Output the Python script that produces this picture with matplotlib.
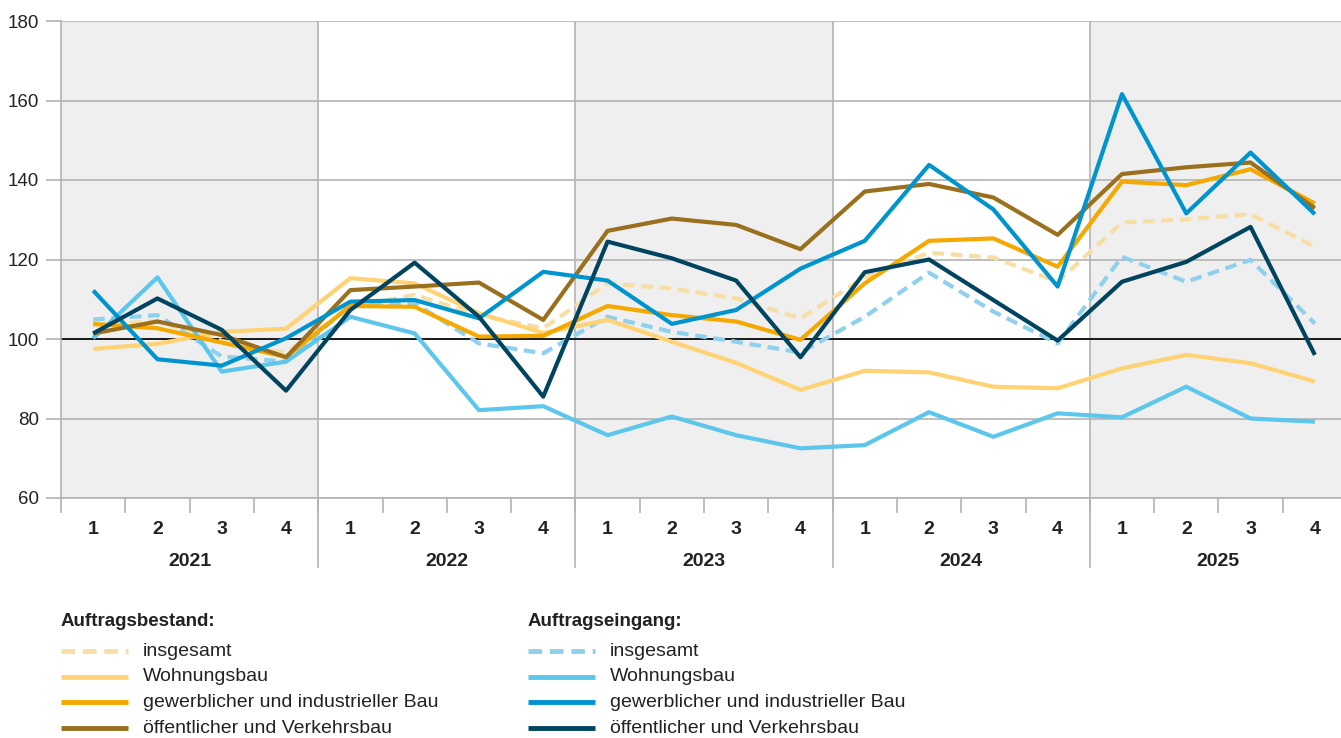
import numpy as np
import matplotlib.pyplot as plt
from matplotlib.lines import Line2D
from matplotlib.transforms import blended_transform_factory

plt.rcParams['font.family'] = ['Liberation Sans', 'DejaVu Sans']

years = ['2021', '2022', '2023', '2024', '2025']
quarters = ['1', '2', '3', '4']

# Auftragsbestand (order backlog)
bestand_insgesamt = [103.5, 104.5, 99.5, 96.5, 108.0, 111.1, 106.0, 102.7,
                     114.0, 112.7, 110.2, 105.2, 115.5, 121.7, 120.5, 114.4,
                     129.3, 130.1, 131.4, 123.2]
bestand_wohnungsbau = [97.5, 98.8, 101.8, 102.6, 115.3, 114.0, 106.5, 101.5,
                       104.8, 99.3, 94.0, 87.2, 92.0, 91.6, 88.0, 87.6,
                       92.6, 96.0, 93.9, 89.3]
bestand_gewerblich = [103.8, 102.7, 99.1, 95.5, 108.3, 108.1, 100.6, 100.8,
                      108.3, 106.0, 104.4, 99.8, 114.0, 124.7, 125.3, 118.2,
                      139.6, 138.7, 142.7, 134.1]
bestand_oeffentlich = [101.4, 104.4, 101.0, 95.4, 112.3, 113.2, 114.2, 104.8,
                       127.2, 130.3, 128.7, 122.6, 137.1, 139.0, 135.6, 126.2,
                       141.5, 143.2, 144.4, 132.9]

# Auftragseingang (new orders)
eingang_insgesamt = [104.9, 106.0, 95.6, 94.3, 108.6, 109.0, 98.9, 96.4,
                     105.6, 101.8, 99.3, 96.6, 105.6, 116.7, 106.9, 98.9,
                     120.7, 114.4, 119.9, 103.9]
eingang_wohnungsbau = [100.2, 115.5, 91.8, 94.3, 105.6, 101.4, 82.1, 83.1,
                       75.8, 80.5, 75.8, 72.5, 73.3, 81.6, 75.4, 81.3,
                       80.3, 88.0, 80.0, 79.2]
eingang_gewerblich = [112.2, 94.9, 93.3, 100.2, 109.4, 109.8, 105.2, 116.9,
                      114.7, 103.8, 107.3, 117.7, 124.7, 143.8, 132.6, 113.2,
                      161.6, 131.6, 146.9, 131.4]
eingang_oeffentlich = [101.4, 110.2, 102.3, 87.0, 107.3, 119.2, 105.6, 85.5,
                       124.5, 120.3, 114.7, 95.4, 116.8, 120.0, 109.8, 99.6,
                       114.4, 119.4, 128.2, 96.0]

labels = ['insgesamt', 'Wohnungsbau', 'gewerblicher und industrieller Bau',
          'öffentlicher und Verkehrsbau']
bestand = [bestand_insgesamt, bestand_wohnungsbau, bestand_gewerblich, bestand_oeffentlich]
eingang = [eingang_insgesamt, eingang_wohnungsbau, eingang_gewerblich, eingang_oeffentlich]
bestand_colors = ['#f7dea5', '#ffd373', '#f5a800', '#9a701e']
eingang_colors = ['#8fd0ef', '#5cc6ec', '#0094cf', '#004460']
styles = [(0, (2.8, 1.6)), '-', '-', '-']

W, H = 1341, 738
fig = plt.figure(figsize=(W / 100, H / 100), dpi=100)
left, top, bottom, right = 61, 21, 498, 1347
ax = fig.add_axes([left / W, 1 - bottom / H, (right - left) / W, (bottom - top) / H])

n = len(years) * len(quarters)
x = np.arange(n)
grid_c = '#b3b3b3'
txt_c = '#222222'

# shaded years
for i in range(0, len(years), 2):
    ax.axvspan(i * 4 - 0.5, i * 4 + 3.5, color='#efefef', lw=0, zorder=0)

ax.set_xlim(-0.5, n - 0.5)
ax.set_ylim(60, 180)
ax.set_yticks(np.arange(60, 181, 20))
ax.yaxis.grid(True, color=grid_c, lw=1.2, zorder=1)
for i in range(1, len(years)):
    ax.axvline(i * 4 - 0.5, color=grid_c, lw=1.2, zorder=1)
ax.axhline(100, color='#1a1a1a', lw=1.4, zorder=2)

for s in ['top', 'right']:
    ax.spines[s].set_visible(False)
for s in ['left', 'bottom']:
    ax.spines[s].set_color(grid_c)
    ax.spines[s].set_linewidth(1.2)

ax.tick_params(axis='y', length=11, width=1.2, color=grid_c, labelsize=13.5,
               labelcolor=txt_c, pad=5)
ax.set_xticks(np.arange(-0.5, n, 1.0))
ax.tick_params(axis='x', length=11, width=1.2, color=grid_c, labelbottom=False)

# lines
order = [(bestand, bestand_colors, 0), (eingang, eingang_colors, 0),
         (bestand, bestand_colors, 1), (eingang, eingang_colors, 1),
         (bestand, bestand_colors, 2), (bestand, bestand_colors, 3),
         (eingang, eingang_colors, 2), (eingang, eingang_colors, 3)]
for data, cols, k in order:
    ax.plot(x, data[k], color=cols[k], lw=3, linestyle=styles[k], zorder=3,
            solid_capstyle='butt', dash_capstyle='butt')

# category labels below
tr = blended_transform_factory(ax.transData, ax.transAxes)
px = 1 / (bottom - top)
for i, yr in enumerate(years):
    for j, q in enumerate(quarters):
        ax.text(i * 4 + j, -32 * px, q, transform=tr, ha='center', va='center',
                fontsize=14, fontweight='bold', color=txt_c)
    ax.text(i * 4 + 1.5, -64 * px, yr, transform=tr, ha='center', va='center',
            fontsize=14, fontweight='bold', color=txt_c)
    if i > 0:
        ax.add_line(Line2D([i * 4 - 0.5] * 2, [0, -69 * px], transform=tr,
                           color=grid_c, lw=1.2, clip_on=False))

# legend
def fy(py):
    return 1 - py / H

for col_x, title, cols in [(61, 'Auftragsbestand:', bestand_colors),
                           (528, 'Auftragseingang:', eingang_colors)]:
    fig.text(col_x / W, fy(622), title, fontsize=13.5, fontweight='bold',
             color=txt_c, va='center')
    for k, lab in enumerate(labels):
        yy = fy(651 + k * 25.7)
        fig.add_artist(Line2D([col_x / W, (col_x + 67) / W], [yy, yy],
                              color=cols[k], lw=3.5, linestyle=styles[k],
                              solid_capstyle='butt', dash_capstyle='butt'))
        fig.text((col_x + 82) / W, yy, lab, fontsize=14, color=txt_c,
                 va='center')

fig.savefig('out.png', dpi=100)
